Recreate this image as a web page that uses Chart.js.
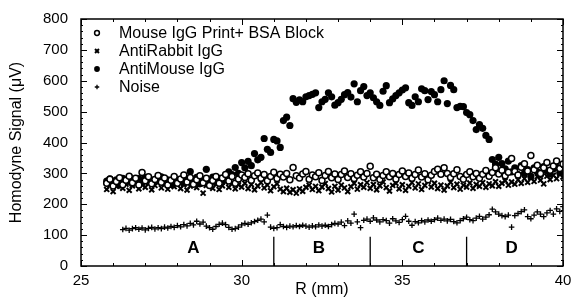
<!DOCTYPE html>
<html>
<head>
<meta charset="utf-8">
<script src="https://cdn.jsdelivr.net/npm/chart.js@4"></script>
<style>
  body { margin: 0; background: #fff; }
</style>
</head>
<body>
<canvas id="chart" width="572" height="299"></canvas>
<script>
// positions along the scan (mm)
const r = [
  25.8, 25.9, 26.0, 26.1, 26.2, 26.3, 26.4, 26.5, 26.6, 26.7, 26.8, 26.9,
  27.0, 27.1, 27.2, 27.3, 27.4, 27.5, 27.6, 27.7, 27.8, 27.9,
  28.0, 28.1, 28.2, 28.3, 28.4, 28.5, 28.6, 28.7, 28.8, 28.9,
  29.0, 29.1, 29.2, 29.3, 29.4, 29.5, 29.6, 29.7, 29.8, 29.9,
  30.0, 30.1, 30.2, 30.3, 30.4, 30.5, 30.6, 30.7, 30.8, 30.9,
  31.0, 31.1, 31.2, 31.3, 31.4, 31.5, 31.6, 31.7, 31.8, 31.9,
  32.0, 32.1, 32.2, 32.3, 32.4, 32.5, 32.6, 32.7, 32.8, 32.9,
  33.0, 33.1, 33.2, 33.3, 33.4, 33.5, 33.6, 33.7, 33.8, 33.9,
  34.0, 34.1, 34.2, 34.3, 34.4, 34.5, 34.6, 34.7, 34.8, 34.9,
  35.0, 35.1, 35.2, 35.3, 35.4, 35.5, 35.6, 35.7, 35.8, 35.9,
  36.0, 36.1, 36.2, 36.3, 36.4, 36.5, 36.6, 36.7, 36.8, 36.9,
  37.0, 37.1, 37.2, 37.3, 37.4, 37.5, 37.6, 37.7, 37.8, 37.9,
  38.0, 38.1, 38.2, 38.3, 38.4, 38.5, 38.6, 38.7, 38.8, 38.9,
  39.0, 39.1, 39.2, 39.3, 39.4, 39.5, 39.6, 39.7, 39.8, 39.9,
  40.0
];

const mouseIgG = [
  268, 281, 259, 274, 286, 263, 278, 291, 270, 284, 262, 303,
  276, 289, 266, 280, 293, 271, 285, 262, 278, 290,
  268, 282, 295, 272, 287, 265, 279, 292, 270, 284,
  261, 277, 290, 268, 285, 296, 275, 290, 268, 282,
  295, 287, 299, 278, 292, 301, 284, 296, 276, 290,
  304, 283, 297, 288, 300, 279, 319, 292, 285, 298,
  306, 281, 295, 289, 302, 277, 293, 306, 286, 298,
  280, 296, 308, 287, 299, 283, 294, 305, 288, 300,
  323, 286, 297, 280, 293, 305, 289, 300, 282, 296,
  308, 290, 301, 284, 296, 311, 288, 299, 279, 294,
  306, 313, 297, 318, 300, 287, 299, 312, 290, 281,
  296, 305, 289, 300, 284, 297, 309, 291, 303, 318,
  298, 310, 292, 304, 348, 306, 295, 320, 331, 308,
  358, 312, 326, 300, 318, 335, 310, 324, 340, 316,
  330
];

const antiRabbit = [
  248, 262, 241, 258, 270, 252, 265, 245, 260, 272, 250, 263,
  255, 268, 247, 261, 273, 253, 266, 249, 262, 257,
  270, 251, 264, 246, 259, 271, 254, 266, 236, 261,
  274, 252, 265, 248, 260, 272, 255, 267, 250, 263,
  256, 268, 251, 264, 247, 259, 270, 253, 262, 244,
  257, 266, 249, 241, 252, 239, 247, 236, 250, 242,
  255, 262, 248, 258, 244, 256, 267, 251, 240, 258,
  246, 262, 253, 241, 257, 268, 249, 263, 255, 270,
  252, 264, 247, 260, 272, 254, 243, 261, 268, 250,
  263, 245, 258, 270, 253, 266, 248, 261, 274, 256,
  268, 251, 262, 246, 259, 271, 254, 265, 249, 262,
  256, 269, 252, 264, 258, 270, 255, 266, 260, 273,
  258, 268, 276, 262, 272, 265, 279, 268, 283, 271,
  286, 274, 289, 278, 266, 291, 280, 294, 283, 297,
  288
];

const antiMouse = [
  275, 282, 268, 279, 262, 284, 271, 288, 266, 277, 283, 270,
  286, 274, 268, 281, 276, 289, 270, 279, 264, 285,
  273, 280, 268, 284, 306, 272, 287, 266, 280, 313,
  276, 288, 271, 284, 279, 292, 305, 296, 319, 300,
  335, 318, 339, 325, 364, 344, 352, 413, 378, 368,
  410, 405, 384, 471, 482, 455, 542, 530, 538, 532,
  548, 552, 556, 561, 513, 532, 540, 561, 548, 521,
  529, 540, 555, 562, 547, 590, 532, 568, 581, 552,
  561, 545, 532, 520, 566, 584, 529, 541, 552, 561,
  570, 577, 529, 520, 548, 532, 574, 568, 539, 565,
  555, 532, 571, 600, 526, 585, 571, 513, 517, 516,
  497, 490, 471, 442, 458, 446, 423, 410, 345, 330,
  352, 332, 315, 340, 305, 318, 296, 325, 300, 312,
  290, 318, 305, 296, 322, 308, 298, 315, 320, 302,
  310
];

// noise trace starts at 26.3 mm
const noise = [
  null, null, null, null, null, 118, 122, 116, 121, 124, 119, 123,
  117, 122, 125, 120, 124, 121, 126, 123, 128, 125,
  131, 127, 134, 130, 138, 133, 145, 136, 142, 129,
  124, 119, 128, 135, 139, 134, 125, 119, 121, 126,
  133, 138, 135, 140, 144, 148, 152, 143, 165, 126,
  122, 124, 134, 128, 125, 129, 127, 131, 128, 132,
  129, 126, 130, 127, 133, 129, 132, 128, 134, 138,
  136, 142, 131, 146, 139, 168, 143, 124, 148, 152,
  145, 156, 149, 143, 150, 147, 139, 153, 146, 141,
  150, 161, 145, 132, 144, 140, 147, 143, 149, 145,
  150, 155, 148, 152, 146, 151, 144, 140, 147, 153,
  158, 150, 147, 155, 161, 152, 158, 166, 184, 175,
  168, 163, 160, 165, 126, 163, 170, 176, 182, 160,
  153, 165, 175, 168, 160, 172, 180, 168, 185, 177,
  192
];

const seriesNames = ['Mouse IgG Print+ BSA Block', 'AntiRabbit IgG', 'AntiMouse IgG', 'Noise'];
const dividers = [31, 34, 37];
const regionNames = ['A', 'B', 'C', 'D'];
const regionAt = [28.5, 32.4, 35.5, 38.4];

const FONT = '"Liberation Sans", Arial, Helvetica, sans-serif';

function points(values) {
  return r.map((x, i) => ({ x: x, y: values[i] })).filter(p => p.y !== null);
}

const styles = [
  { pointStyle: 'circle', radius: 3.0, backgroundColor: '#fff', borderColor: '#000', borderWidth: 1.5 },
  { pointStyle: 'crossRot', radius: 3.5, backgroundColor: '#000', borderColor: '#000', borderWidth: 2 },
  { pointStyle: 'circle', radius: 3.6, backgroundColor: '#000', borderColor: '#000', borderWidth: 0 },
  { pointStyle: 'cross', radius: 2.8, backgroundColor: '#000', borderColor: '#000', borderWidth: 1.3 }
];

const allSeries = [mouseIgG, antiRabbit, antiMouse, noise];

// frame, inward ticks, region markers and legend
const decorations = {
  id: 'decorations',
  afterDatasetsDraw(chart) {
    const { ctx, chartArea: a, scales: { x, y } } = chart;
    ctx.save();
    ctx.strokeStyle = '#000';
    ctx.lineWidth = 1.5;
    ctx.strokeRect(a.left, a.top, a.right - a.left, a.bottom - a.top);

    ctx.lineWidth = 1;
    ctx.beginPath();
    for (let v = 25; v <= 40; v++) {
      const len = v % 5 === 0 ? 6 : 3;
      const px = Math.round(x.getPixelForValue(v)) + 0.5;
      ctx.moveTo(px, a.bottom); ctx.lineTo(px, a.bottom - len);
      ctx.moveTo(px, a.top); ctx.lineTo(px, a.top + len);
    }
    for (let v = 0; v <= 800; v += 20) {
      const len = v % 100 === 0 ? 6 : 2;
      const py = Math.round(y.getPixelForValue(v)) + 0.5;
      ctx.moveTo(a.left, py); ctx.lineTo(a.left + len, py);
      ctx.moveTo(a.right, py); ctx.lineTo(a.right - len, py);
    }
    ctx.stroke();

    ctx.lineWidth = 1.3;
    ctx.beginPath();
    dividers.forEach(d => {
      const px = x.getPixelForValue(d);
      ctx.moveTo(px, y.getPixelForValue(0));
      ctx.lineTo(px, y.getPixelForValue(95));
    });
    ctx.stroke();

    ctx.fillStyle = '#000';
    ctx.font = 'bold 17px ' + FONT;
    ctx.textAlign = 'center';
    ctx.textBaseline = 'middle';
    regionNames.forEach((n, i) => {
      ctx.fillText(n, x.getPixelForValue(regionAt[i]), y.getPixelForValue(58));
    });

    ctx.font = '16px ' + FONT;
    ctx.textAlign = 'left';
    seriesNames.forEach((n, i) => {
      const ly = 33 + i * 18;
      const s = styles[i];
      ctx.fillStyle = s.backgroundColor;
      ctx.strokeStyle = s.borderColor;
      ctx.lineWidth = s.borderWidth;
      Chart.helpers.drawPoint(ctx, {
        pointStyle: s.pointStyle, radius: s.radius * 0.8, rotation: 0, borderWidth: s.borderWidth
      }, 97, ly);
      ctx.fillStyle = '#000';
      ctx.fillText(n, 119, ly + 1);
    });
    ctx.restore();
  }
};

new Chart(document.getElementById('chart').getContext('2d'), {
  type: 'scatter',
  data: {
    datasets: allSeries.map((vals, i) => ({
      label: seriesNames[i],
      data: points(vals),
      pointStyle: styles[i].pointStyle,
      pointRadius: styles[i].radius,
      pointBackgroundColor: styles[i].backgroundColor,
      pointBorderColor: styles[i].borderColor,
      pointBorderWidth: styles[i].borderWidth,
      showLine: false
    }))
  },
  options: {
    responsive: false,
    animation: false,
    layout: { padding: { top: 19, right: 9, left: 0, bottom: 0 } },
    plugins: { legend: { display: false }, tooltip: { enabled: false } },
    scales: {
      x: {
        type: 'linear',
        min: 25, max: 40,
        grid: { display: false, drawTicks: false },
        border: { display: false },
        ticks: { stepSize: 5, padding: 6, color: '#000', font: { family: FONT, size: 15 } },
        title: { display: true, text: 'R (mm)', color: '#000', font: { family: FONT, size: 16 }, padding: { top: 0, bottom: 0 } },
        afterFit: s => { s.height = 33; s.paddingLeft = 0; s.paddingRight = 0; }
      },
      y: {
        min: 0, max: 800,
        grid: { display: false, drawTicks: false },
        border: { display: false },
        ticks: { stepSize: 100, padding: 13, color: '#000', font: { family: FONT, size: 15 } },
        title: { display: true, text: 'Homodyne Signal (μV)', color: '#000', font: { family: FONT, size: 16 }, padding: { top: 7, bottom: 0 } },
        afterFit: s => { s.width = 81; s.paddingTop = 0; s.paddingBottom = 0; }
      }
    }
  },
  plugins: [decorations]
});
</script>
</body>
</html>
